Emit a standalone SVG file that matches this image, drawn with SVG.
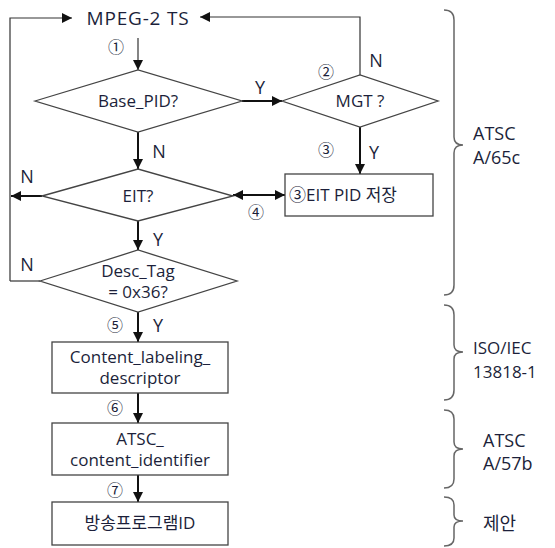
<svg xmlns="http://www.w3.org/2000/svg" width="555" height="548" viewBox="0 0 555 548">
<style>
text{font-family:"Open Sans","Noto Sans CJK KR",sans-serif;fill:#1c1f3a}
.t{font-size:17px;text-anchor:middle}
.lbl{font-size:18px;text-anchor:middle}
.num{font-size:16px;text-anchor:middle;font-family:"Noto Sans CJK KR","DejaVu Sans",sans-serif}
.side{font-size:18px}
.shape{fill:#fff;stroke:#444;stroke-width:1.3}
.thin{fill:none;stroke:#333;stroke-width:1.2}
.thick{fill:none;stroke:#111;stroke-width:2}
.brace{fill:none;stroke:#666;stroke-width:1.5}
</style>
<defs>
<marker id="ah" viewBox="0 0 10 10" refX="10" refY="5" markerWidth="10" markerHeight="10" markerUnits="userSpaceOnUse" orient="auto-start-reverse">
<path d="M0,0 L10,5 L0,10 z" fill="#111"/>
</marker>
</defs>

<g id="connectors">
<path class="thin" d="M10,281 L10,18 L72,18" marker-end="url(#ah)"/>
<path class="thin" d="M360,75 L360,17 L200,17" marker-end="url(#ah)"/>
<path class="thin" d="M40,281 L10,281"/>
<line class="thin" x1="138" y1="38" x2="138" y2="70" marker-end="url(#ah)"/>
<line class="thick" x1="242" y1="101" x2="282" y2="101" marker-end="url(#ah)"/>
<line class="thick" x1="360" y1="127" x2="360" y2="174" marker-end="url(#ah)"/>
<line class="thick" x1="138" y1="132" x2="138" y2="169" marker-end="url(#ah)"/>
<line class="thick" x1="233" y1="195" x2="285" y2="195" marker-start="url(#ah)" marker-end="url(#ah)"/>
<line class="thick" x1="42" y1="196" x2="11" y2="196" marker-end="url(#ah)"/>
<line class="thick" x1="138" y1="221" x2="138" y2="250" marker-end="url(#ah)"/>
<line class="thick" x1="138" y1="312" x2="138" y2="342" marker-end="url(#ah)"/>
<line class="thick" x1="138" y1="393" x2="138" y2="423" marker-end="url(#ah)"/>
<line class="thick" x1="138" y1="475" x2="138" y2="502" marker-end="url(#ah)"/>
<text class="num" x="116" y="53">①</text>
<text class="lbl" x="260" y="94">Y</text>
<text class="num" x="326" y="78">②</text>
<text class="lbl" x="376" y="67">N</text>
<text class="num" x="326" y="156">③</text>
<text class="lbl" x="374" y="159">Y</text>
<text class="lbl" x="159" y="158">N</text>
<text class="lbl" x="27" y="183">N</text>
<text class="num" x="256" y="218">④</text>
<text class="lbl" x="158" y="246">Y</text>
<text class="lbl" x="27" y="271">N</text>
<text class="num" x="115" y="331">⑤</text>
<text class="lbl" x="158" y="332">Y</text>
<text class="num" x="115" y="414">⑥</text>
<text class="num" x="115" y="496">⑦</text>
</g>

<g id="mpeg">
<text x="138" y="25" style="font-size:19px;text-anchor:middle;letter-spacing:0.8px">MPEG-2 TS</text>
</g>
<g id="base_pid">
<polygon class="shape" points="35,101 138,70 242,101 138,132"/>
<text class="t" x="138" y="107">Base_PID?</text>
</g>
<g id="mgt">
<polygon class="shape" points="282,101 360,75 438,101 360,127"/>
<text class="t" x="360" y="107">MGT ?</text>
</g>
<g id="eit_pid">
<rect class="shape" x="285" y="174" width="148" height="42"/>
<text x="289" y="201" style="font-size:17px">③EIT PID 저장</text>
</g>
<g id="eit">
<polygon class="shape" points="42,196 138,169 233,196 138,221"/>
<text class="t" x="138" y="202">EIT?</text>
</g>
<g id="desc_tag">
<polygon class="shape" points="40,281 138,250 237,281 138,312"/>
<text class="t" x="138" y="277">Desc_Tag</text>
<text class="t" x="138" y="298">= 0x36?</text>
</g>
<g id="content_labeling">
<rect class="shape" x="52" y="342" width="176" height="51"/>
<text class="t" x="140" y="363">Content_labeling_</text>
<text class="t" x="140" y="384">descriptor</text>
</g>
<g id="atsc_cid">
<rect class="shape" x="52" y="423" width="176" height="52"/>
<text class="t" x="140" y="445">ATSC_</text>
<text class="t" x="140" y="466">content_identifier</text>
</g>
<g id="program_id">
<rect class="shape" x="52" y="502" width="176" height="43"/>
<text class="t" x="140" y="529">방송프로그램ID</text>
</g>

<g id="braces">
<path class="brace" d="M444,10 Q454,10 454,20 L454,137 Q454,145 463,145 Q454,145 454,153 L454,285 Q454,295 444,295"/>
<path class="brace" d="M444,305 Q454,305 454,315 L454,345 Q454,352 463,352 Q454,352 454,359 L454,390 Q454,400 444,400"/>
<path class="brace" d="M444,410 Q454,410 454,419 L454,442 Q454,449 463,449 Q454,449 454,456 L454,479 Q454,488 444,488"/>
<path class="brace" d="M444,497 Q454,497 454,505 L454,515 Q454,521 463,521 Q454,521 454,527 L454,538 Q454,546 444,546"/>
<text class="side" x="473" y="140">ATSC</text>
<text class="side" x="473" y="164">A/65c</text>
<text class="side" x="473" y="354" style="font-size:17px">ISO/IEC</text>
<text class="side" x="473" y="378" style="font-size:17px">13818-1</text>
<text class="side" x="483" y="447">ATSC</text>
<text class="side" x="483" y="470">A/57b</text>
<text class="side" x="483" y="530">제안</text>
</g>
</svg>
